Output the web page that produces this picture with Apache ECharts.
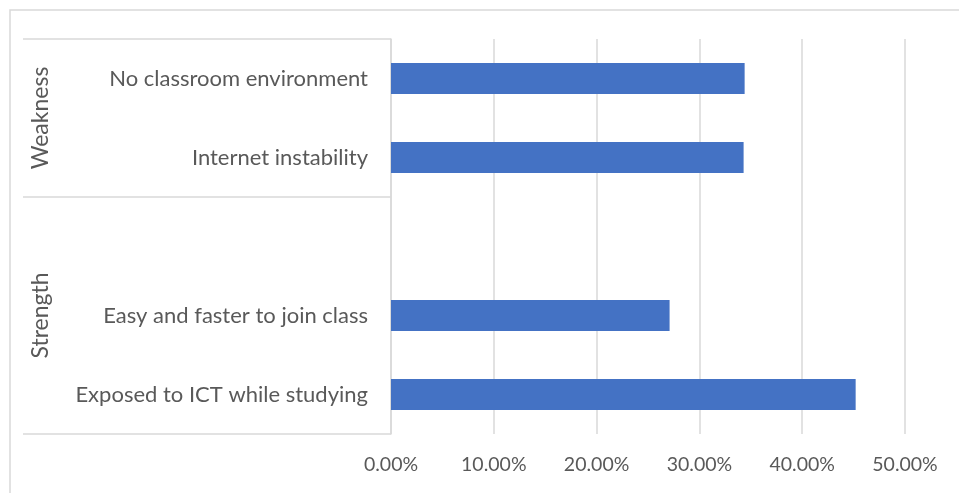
<!DOCTYPE html>
<html><head><meta charset="utf-8">
<script src="https://cdn.jsdelivr.net/npm/echarts@6/dist/echarts.min.js"></script>
<style>html,body{margin:0;padding:0;background:#fff}#c{width:959px;height:493px}</style>
</head><body><div id="c"></div>
<script>
const categories = ['Exposed to ICT while studying','Easy and faster to join class','','Internet instability','No classroom environment'];
const values = [0.452, 0.271, null, 0.343, 0.344];
const groupNames = ['Strength','Weakness'];
const groupStart = [0, 3];
const groupEnd = [2, 4];
const tickValues = [0, 0.1, 0.2, 0.3, 0.4, 0.5];

const FONT = 'Lato';
const TXT = '#595959';
const LINE = '#d9d9d9';

const chart = echarts.init(document.getElementById('c'), null, {renderer:'canvas'});
chart.setOption({
  animation:false,
  backgroundColor:'#fff',
  grid:{left:391, right:54, top:39, bottom:59, containLabel:false},
  xAxis:{type:'value', min:tickValues[0], max:tickValues[tickValues.length-1], interval:0.1,
    axisLine:{show:false}, axisTick:{show:false},
    splitLine:{show:true, lineStyle:{color:LINE, width:1.5}},
    axisLabel:{color:TXT, fontFamily:FONT, fontSize:19.5, margin:21,
      formatter:v=>(v*100).toFixed(2)+'%'}},
  yAxis:{type:'category', data:categories,
    axisLine:{show:true, lineStyle:{color:LINE, width:1.5}}, axisTick:{show:false},
    axisLabel:{color:TXT, fontFamily:FONT, fontSize:22, margin:23}},
  series:[{type:'bar', data:values, barWidth:'39.5%', itemStyle:{color:'#4472C4'}}]
});

function py(i){ return chart.convertToPixel({yAxisIndex:0}, i); }
const slot = py(0) - py(1);
const xl = 23, xr = 391;
const els = [{type:'rect', shape:{x:10,y:10,width:1000,height:600}, style:{fill:null, stroke:LINE, lineWidth:1.5}, silent:true}];
const bounds = new Set();
groupNames.forEach((g,k)=>{
  const yTop = py(groupEnd[k]) - slot/2;
  const yBot = py(groupStart[k]) + slot/2;
  bounds.add(Math.round(yTop*2)/2); bounds.add(Math.round(yBot*2)/2);
  els.push({type:'text', x:41, y:(yTop+yBot)/2, rotation:Math.PI/2,
    style:{text:g, fill:TXT, font:'23px '+FONT, align:'center', verticalAlign:'middle'}});
});
bounds.forEach(y=>{
  els.push({type:'line', shape:{x1:xl,y1:y,x2:xr,y2:y}, style:{stroke:LINE, lineWidth:1.5}});
});
chart.setOption({graphic:els});
</script></body></html>
